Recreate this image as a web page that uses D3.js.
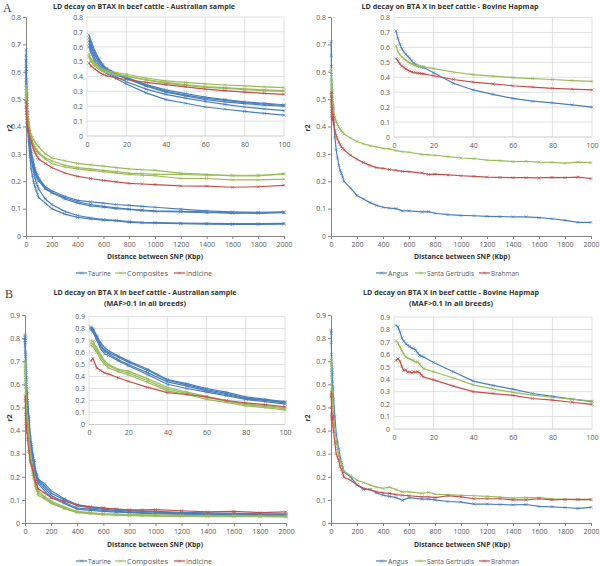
<!DOCTYPE html>
<html>
<head>
<meta charset="utf-8">
<script src="https://cdn.jsdelivr.net/npm/d3@7"></script>
<style>
  body { margin: 0; background: #fff; }
  text { font-family: "Open Sans", "Liberation Sans", sans-serif; }
</style>
</head>
<body>
<svg width="600" height="566"></svg>
<script>
// distances (Kbp) at which r2 was reported
const distAus = [1,2,4,6,8,10,15,20,30,40,50,60,70,80,90,100,150,200,300,400,500,600,700,800,900,1000,1200,1400,1600,1800,2000]
const distHap = [1,2,3,4,5,6,7,8,9,10,11,12,13,14,15,20,30,40,50,60,70,80,90,100,150,200,250,300,350,400,450,500,550,600,700,750,800,900,1000,1100,1200,1300,1400,1500,1600,1700,1800,1900,2000]

// A - Australian sample
const taurineA = [
  [0.68,0.64,0.57,0.52,0.48,0.455,0.42,0.395,0.345,0.31,0.285,0.262,0.245,0.23,0.22,0.21,0.18,0.165,0.145,0.13,0.125,0.12,0.115,0.112,0.108,0.105,0.098,0.092,0.088,0.086,0.088],
  [0.66,0.62,0.555,0.51,0.47,0.45,0.415,0.39,0.34,0.30,0.275,0.255,0.24,0.225,0.215,0.205,0.175,0.16,0.14,0.125,0.115,0.108,0.103,0.098,0.095,0.092,0.09,0.088,0.083,0.085,0.085],
  [0.64,0.60,0.54,0.50,0.46,0.44,0.41,0.385,0.335,0.295,0.27,0.245,0.23,0.218,0.208,0.20,0.172,0.158,0.135,0.12,0.11,0.105,0.10,0.097,0.093,0.09,0.088,0.085,0.085,0.083,0.086],
  [0.62,0.58,0.52,0.48,0.45,0.43,0.395,0.365,0.315,0.28,0.255,0.232,0.212,0.195,0.182,0.17,0.135,0.115,0.09,0.075,0.066,0.06,0.057,0.053,0.05,0.049,0.047,0.046,0.045,0.045,0.046],
  [0.60,0.56,0.50,0.46,0.44,0.42,0.385,0.35,0.29,0.245,0.22,0.195,0.18,0.165,0.152,0.14,0.12,0.10,0.08,0.068,0.062,0.058,0.055,0.05,0.048,0.047,0.045,0.043,0.042,0.042,0.043]
]
const compositesA = [
  [0.55,0.52,0.49,0.465,0.45,0.44,0.425,0.415,0.39,0.37,0.36,0.35,0.343,0.337,0.33,0.325,0.30,0.285,0.275,0.265,0.26,0.255,0.25,0.245,0.242,0.24,0.23,0.225,0.22,0.22,0.228],
  [0.54,0.51,0.48,0.46,0.44,0.43,0.415,0.405,0.38,0.36,0.345,0.332,0.325,0.317,0.31,0.305,0.285,0.275,0.258,0.25,0.245,0.24,0.235,0.23,0.228,0.225,0.225,0.222,0.222,0.222,0.225],
  [0.53,0.50,0.47,0.45,0.435,0.425,0.41,0.40,0.375,0.355,0.34,0.327,0.32,0.312,0.305,0.30,0.28,0.265,0.252,0.245,0.24,0.235,0.23,0.225,0.222,0.22,0.21,0.21,0.205,0.205,0.208]
]
const indicineA = [
  [0.49,0.47,0.45,0.43,0.415,0.405,0.39,0.38,0.36,0.345,0.33,0.315,0.305,0.295,0.287,0.28,0.265,0.25,0.23,0.218,0.21,0.203,0.198,0.192,0.19,0.188,0.183,0.182,0.178,0.18,0.185]
]

// A - Bovine Hapmap
const angusA = [[0.71,0.66,0.62,0.59,0.57,0.555,0.54,0.525,0.51,0.495,0.485,0.478,0.472,0.468,0.465,0.43,0.36,0.315,0.285,0.258,0.24,0.228,0.215,0.20,0.175,0.148,0.135,0.122,0.112,0.105,0.102,0.10,0.092,0.092,0.088,0.089,0.083,0.078,0.075,0.074,0.072,0.071,0.07,0.07,0.067,0.063,0.057,0.05,0.05]]
const santaA = [[0.61,0.57,0.55,0.535,0.525,0.515,0.505,0.495,0.488,0.482,0.478,0.476,0.474,0.472,0.47,0.458,0.435,0.418,0.407,0.398,0.391,0.385,0.378,0.373,0.358,0.345,0.337,0.33,0.325,0.32,0.318,0.312,0.308,0.306,0.298,0.296,0.295,0.29,0.285,0.283,0.277,0.275,0.272,0.273,0.27,0.269,0.266,0.27,0.268]]
const brahmanA = [[0.525,0.51,0.49,0.475,0.465,0.455,0.447,0.44,0.436,0.432,0.43,0.428,0.426,0.424,0.422,0.41,0.385,0.368,0.355,0.343,0.334,0.326,0.32,0.315,0.295,0.28,0.268,0.258,0.25,0.247,0.243,0.24,0.236,0.235,0.23,0.225,0.226,0.223,0.22,0.218,0.215,0.214,0.213,0.213,0.212,0.214,0.213,0.215,0.21]]

// B - Australian sample, MAF>0.1
const taurineB = [
  [0.815,0.80,0.74,0.68,0.64,0.615,0.57,0.53,0.46,0.375,0.34,0.30,0.27,0.23,0.21,0.19,0.17,0.14,0.105,0.08,0.07,0.065,0.06,0.055,0.052,0.05,0.046,0.044,0.042,0.04,0.04],
  [0.805,0.79,0.73,0.66,0.62,0.60,0.56,0.52,0.45,0.37,0.33,0.29,0.26,0.22,0.205,0.185,0.16,0.13,0.10,0.075,0.065,0.06,0.055,0.052,0.05,0.047,0.043,0.04,0.038,0.037,0.036],
  [0.80,0.78,0.72,0.65,0.61,0.59,0.54,0.50,0.43,0.355,0.32,0.28,0.25,0.215,0.20,0.18,0.15,0.12,0.09,0.065,0.06,0.055,0.05,0.047,0.045,0.043,0.04,0.038,0.036,0.034,0.033],
  [0.79,0.77,0.70,0.63,0.59,0.575,0.53,0.49,0.415,0.335,0.30,0.27,0.24,0.21,0.19,0.17,0.14,0.11,0.085,0.06,0.055,0.05,0.047,0.045,0.042,0.04,0.037,0.035,0.034,0.032,0.03]
]
const compositesB = [
  [0.70,0.69,0.64,0.58,0.53,0.50,0.46,0.445,0.38,0.31,0.27,0.235,0.20,0.17,0.155,0.14,0.115,0.095,0.07,0.05,0.045,0.04,0.038,0.036,0.035,0.035,0.033,0.032,0.032,0.031,0.03],
  [0.68,0.67,0.62,0.56,0.515,0.49,0.45,0.43,0.365,0.295,0.26,0.225,0.195,0.165,0.15,0.13,0.11,0.09,0.065,0.047,0.042,0.038,0.036,0.034,0.033,0.032,0.031,0.03,0.03,0.029,0.028],
  [0.66,0.65,0.60,0.54,0.50,0.47,0.44,0.415,0.35,0.28,0.25,0.21,0.185,0.155,0.14,0.12,0.105,0.085,0.062,0.045,0.04,0.036,0.034,0.032,0.031,0.03,0.029,0.028,0.028,0.027,0.026]
]
const indicineB = [
  [0.53,0.55,0.47,0.45,0.43,0.42,0.39,0.36,0.31,0.265,0.25,0.23,0.20,0.18,0.165,0.148,0.13,0.11,0.095,0.077,0.07,0.065,0.06,0.057,0.057,0.058,0.053,0.048,0.05,0.045,0.048]
]

// B - Bovine Hapmap, MAF>0.1
const angusB = [[0.833,0.82,0.78,0.73,0.705,0.685,0.672,0.662,0.652,0.645,0.632,0.61,0.592,0.585,0.578,0.535,0.46,0.385,0.35,0.32,0.285,0.262,0.24,0.22,0.20,0.165,0.145,0.145,0.13,0.12,0.115,0.11,0.098,0.11,0.103,0.103,0.10,0.093,0.09,0.082,0.082,0.08,0.078,0.08,0.072,0.07,0.067,0.063,0.068]]
const santaB = [[0.71,0.69,0.66,0.63,0.60,0.578,0.568,0.562,0.555,0.55,0.535,0.54,0.52,0.50,0.485,0.46,0.41,0.355,0.322,0.295,0.272,0.255,0.24,0.225,0.205,0.185,0.175,0.165,0.155,0.15,0.155,0.145,0.135,0.135,0.128,0.133,0.125,0.122,0.12,0.118,0.115,0.112,0.108,0.11,0.11,0.105,0.102,0.10,0.10]]
const brahmanB = [[0.55,0.565,0.545,0.50,0.47,0.475,0.455,0.46,0.45,0.46,0.455,0.46,0.45,0.43,0.418,0.395,0.345,0.30,0.285,0.27,0.245,0.232,0.215,0.198,0.185,0.165,0.15,0.145,0.135,0.13,0.128,0.123,0.12,0.118,0.113,0.113,0.11,0.118,0.113,0.105,0.105,0.105,0.10,0.10,0.105,0.10,0.102,0.102,0.102]]

// ticks
const xTicksMain = [0,200,400,600,800,1000,1200,1400,1600,1800,2000]
const xTicksInset = [0,20,40,60,80,100]
const yTicksA = [0,0.1,0.2,0.3,0.4,0.5,0.6,0.7,0.8]
const yTicksB = [0,0.1,0.2,0.3,0.4,0.5,0.6,0.7,0.8,0.9]

const blue = '#4a7ebb', green = '#9bbb59', red = '#c0504d'
const axisGrey = '#868686', labelGrey = '#595959'

const svg = d3.select('svg')

function fmtY(d) { return d === 0 ? '0' : d3.format('.1f')(d) }
const fmtX = d3.format('d')

const markPath = 'M-1.5,-1.5L1.5,1.5M-1.5,1.5L1.5,-1.5'

function drawSeries(g, dist, vals, x, y, color, maxX) {
  const pts = dist.map((d, i) => [d, vals[i]]).filter(p => p[0] <= maxX)
  g.append('path')
    .datum(pts)
    .attr('fill', 'none')
    .attr('stroke', color)
    .attr('stroke-width', 1.2)
    .attr('d', d3.line().x(p => x(p[0])).y(p => y(p[1])))
  g.selectAll(null)
    .data(pts)
    .enter()
    .append('path')
    .attr('transform', p => `translate(${x(p[0])},${y(p[1])})`)
    .attr('d', markPath)
    .attr('stroke', color)
    .attr('stroke-width', 0.6)
}

function styleAxis(sel) {
  sel.attr('font-size', null).attr('font-family', null)
  sel.selectAll('path, line').attr('stroke', axisGrey)
  sel.selectAll('text').attr('fill', labelGrey).style('font-size', '7px')
}

function drawPanel(p) {
  const g = svg.append('g')

  // main chart
  const x = d3.scaleLinear().domain([0, 2000]).range([p.mx0, p.mx1])
  const y = d3.scaleLinear().domain([0, p.ymax]).range([p.my0, p.my1])

  g.append('g')
    .attr('transform', `translate(${p.mx0},0)`)
    .call(d3.axisLeft(y).tickValues(p.yTicks).tickFormat(fmtY).tickSizeInner(3).tickSizeOuter(0).tickPadding(2))
    .call(styleAxis)
  g.append('g')
    .attr('transform', `translate(0,${p.my0})`)
    .call(d3.axisBottom(x).tickValues(xTicksMain).tickFormat(fmtX).tickSizeInner(3).tickSizeOuter(0).tickPadding(3))
    .call(styleAxis)

  p.groups.forEach(gr => gr.series.forEach(s => drawSeries(g, gr.dist, s, x, y, gr.color, 2000)))

  // inset 0-100 Kbp
  const ix = d3.scaleLinear().domain([0, 100]).range([p.ix0, p.ix1])
  const iy = d3.scaleLinear().domain([0, p.ymax]).range([p.iy0, p.iy1])
  const ig = g.append('g')
  ig.append('rect')
    .attr('x', p.ix0).attr('y', p.iy1)
    .attr('width', p.ix1 - p.ix0).attr('height', p.iy0 - p.iy1)
    .attr('fill', '#fff')
  ig.selectAll('.vg').data(xTicksInset).enter().append('line')
    .attr('x1', d => ix(d)).attr('x2', d => ix(d))
    .attr('y1', p.iy0).attr('y2', p.iy1)
    .attr('stroke', '#d9d9d9').attr('stroke-width', 0.8)
  ig.selectAll('.hg').data(p.yTicks).enter().append('line')
    .attr('x1', p.ix0).attr('x2', p.ix1)
    .attr('y1', d => iy(d)).attr('y2', d => iy(d))
    .attr('stroke', d => d === 0 ? '#bfbfbf' : '#d9d9d9').attr('stroke-width', 0.8)
  ig.append('g')
    .attr('transform', `translate(${p.ix0},0)`)
    .call(d3.axisLeft(iy).tickValues(p.yTicks).tickFormat(fmtY).tickSize(0).tickPadding(4))
    .call(styleAxis)
    .call(a => a.select('.domain').remove())
  ig.append('g')
    .attr('transform', `translate(0,${p.iy0})`)
    .call(d3.axisBottom(ix).tickValues(xTicksInset).tickSize(0).tickPadding(6))
    .call(styleAxis)
    .call(a => a.select('.domain').remove())

  p.groups.forEach(gr => gr.series.forEach(s => drawSeries(ig, gr.dist, s, ix, iy, gr.color, 100)))

  // titles
  p.title.forEach((t, i) => {
    g.append('text')
      .attr('x', p.tx).attr('y', p.ty[i])
      .attr('text-anchor', 'middle')
      .attr('textLength', p.tw[i]).attr('lengthAdjust', 'spacingAndGlyphs')
      .style('font-size', '7px').style('font-weight', 'bold')
      .attr('fill', '#333')
      .text(t)
  })
  if (p.letter) {
    g.append('text')
      .attr('x', p.lx).attr('y', p.ly)
      .style('font-family', '"Liberation Serif", serif').style('font-size', '12px')
      .attr('fill', '#444')
      .text(p.letter)
  }
  g.append('text')
    .attr('transform', `translate(${p.rX},${p.rY}) rotate(-90)`)
    .attr('text-anchor', 'middle')
    .style('font-size', '7px').style('font-weight', 'bold')
    .attr('fill', '#333')
    .text('r2')
  g.append('text')
    .attr('x', p.xtX).attr('y', p.xtY)
    .attr('text-anchor', 'middle')
    .attr('textLength', 96).attr('lengthAdjust', 'spacingAndGlyphs')
    .style('font-size', '7px').style('font-weight', 'bold')
    .attr('fill', '#333')
    .text('Distance between SNP (Kbp)')

  // legend
  p.groups.forEach((gr, i) => {
    const lx = p.legX[i]
    g.append('line')
      .attr('x1', lx).attr('x2', lx + 11)
      .attr('y1', p.legY).attr('y2', p.legY)
      .attr('stroke', gr.color).attr('stroke-width', 1.2)
    g.append('path')
      .attr('transform', `translate(${lx + 5.5},${p.legY})`)
      .attr('d', markPath).attr('stroke', gr.color).attr('stroke-width', 0.6)
    g.append('text')
      .attr('x', lx + 12).attr('y', p.legY + 2.5)
      .attr('textLength', p.legW[i]).attr('lengthAdjust', 'spacingAndGlyphs')
      .style('font-size', '7px')
      .attr('fill', labelGrey)
      .text(gr.name)
  })
}

const panels = [
  { letter: 'A', lx: 3, ly: 12,
    title: ['LD decay on BTAX in beef cattle - Australian sample'], tx: 144, ty: [9], tw: [182],
    mx0: 26, mx1: 284, my0: 236, my1: 17, ymax: 0.8, yTicks: yTicksA,
    ix0: 87, ix1: 284, iy0: 136, iy1: 17,
    rX: 12, rY: 128, xtX: 155, xtY: 258.5, legY: 273, legX: [76, 115, 174], legW: [23, 41, 26],
    groups: [
      { name: 'Taurine', color: blue, dist: distAus, series: taurineA },
      { name: 'Composites', color: green, dist: distAus, series: compositesA },
      { name: 'Indicine', color: red, dist: distAus, series: indicineA }
    ] },
  { title: ['LD decay on BTA X in beef cattle - Bovine Hapmap'], tx: 450, ty: [9], tw: [177],
    mx0: 331, mx1: 591, my0: 236, my1: 17, ymax: 0.8, yTicks: yTicksA,
    ix0: 394, ix1: 592, iy0: 137, iy1: 17.5,
    rX: 310, rY: 128, xtX: 462, xtY: 258.5, legY: 273, legX: [376, 415, 479], legW: [20, 47, 28],
    groups: [
      { name: 'Angus', color: blue, dist: distHap, series: angusA },
      { name: 'Santa Gertrudis', color: green, dist: distHap, series: santaA },
      { name: 'Brahman', color: red, dist: distHap, series: brahmanA }
    ] },
  { letter: 'B', lx: 5, ly: 298,
    title: ['LD decay on BTA X in beef cattle - Australian sample', '(MAF>0.1 in all breeds)'], tx: 145, ty: [295, 306], tw: [183, 82],
    mx0: 25, mx1: 286, my0: 523, my1: 315, ymax: 0.9, yTicks: yTicksB,
    ix0: 89, ix1: 285, iy0: 424.5, iy1: 316.5,
    rX: 12, rY: 418, xtX: 155, xtY: 546.5, legY: 561, legX: [76, 115, 174], legW: [23, 41, 26],
    groups: [
      { name: 'Taurine', color: blue, dist: distAus, series: taurineB },
      { name: 'Composites', color: green, dist: distAus, series: compositesB },
      { name: 'Indicine', color: red, dist: distAus, series: indicineB }
    ] },
  { title: ['LD decay on BTA X in beef cattle - Bovine Hapmap', '(MAF>0.1 in all breeds)'], tx: 451, ty: [295, 306], tw: [176, 84],
    mx0: 331, mx1: 591, my0: 523, my1: 315, ymax: 0.9, yTicks: yTicksB,
    ix0: 394, ix1: 592, iy0: 429, iy1: 317,
    rX: 310, rY: 418, xtX: 462, xtY: 546.5, legY: 561, legX: [376, 415, 479], legW: [20, 47, 28],
    groups: [
      { name: 'Angus', color: blue, dist: distHap, series: angusB },
      { name: 'Santa Gertrudis', color: green, dist: distHap, series: santaB },
      { name: 'Brahman', color: red, dist: distHap, series: brahmanB }
    ] }
]

panels.forEach(drawPanel)
</script>
</body>
</html>
